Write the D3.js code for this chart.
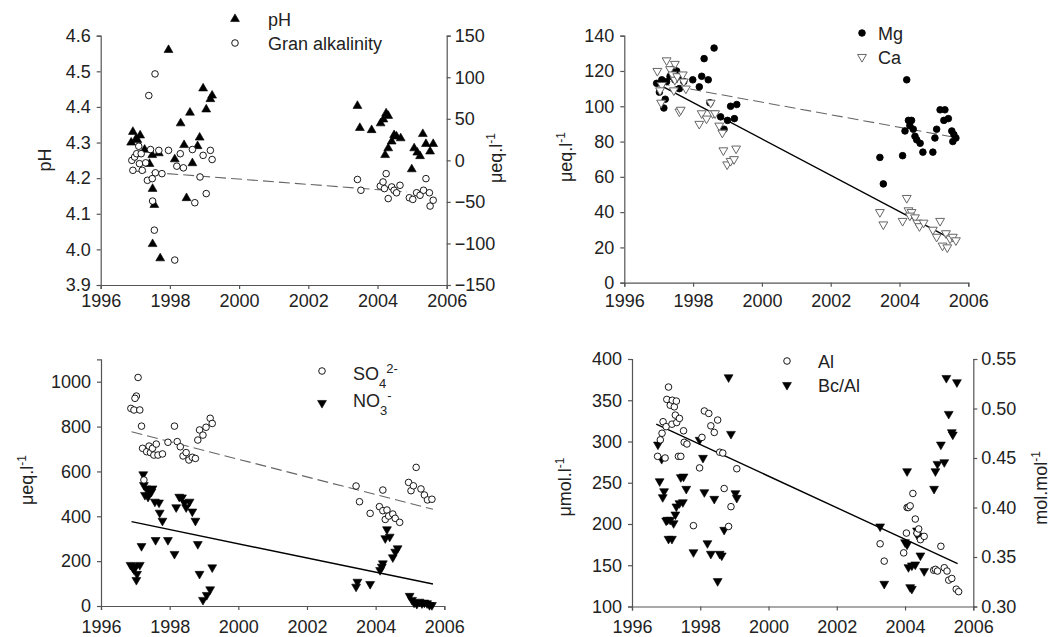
<!DOCTYPE html>
<html>
<head>
<meta charset="utf-8">
<script src="https://cdn.jsdelivr.net/npm/d3@7"></script>
<style>
  body { margin: 0; background: #fff; }
  svg { font-family: "Liberation Sans", Arial, sans-serif; }
</style>
</head>
<body>
<svg id="chart" width="1052" height="637"></svg>
<script>
// ---- data: [year, value] ----
const pH = [
  [1996.93, 4.33], [1997.02, 4.31], [1997.14, 4.32], [1996.88, 4.30], [1997.06, 4.307],
  [1997.27, 4.28], [1997.49, 4.265], [1997.68, 4.27], [1997.41, 4.24], [1997.5, 4.17],
  [1997.55, 4.125], [1997.5, 4.015], [1997.72, 3.975], [1997.96, 4.56], [1998.14, 4.253],
  [1998.31, 4.354], [1998.41, 4.293], [1998.48, 4.144], [1998.58, 4.384], [1998.65, 4.242],
  [1998.8, 4.29], [1998.86, 4.314], [1998.96, 4.452], [1999.05, 4.393], [1999.17, 4.422],
  [1999.22, 4.432],
  [2003.42, 4.403], [2003.49, 4.341], [2003.83, 4.335], [2004.09, 4.354], [2004.17, 4.365],
  [2004.25, 4.382], [2004.31, 4.375], [2004.22, 4.265], [2004.31, 4.284], [2004.41, 4.303],
  [2004.48, 4.321], [2004.55, 4.317], [2004.67, 4.312], [2004.99, 4.225], [2005.06, 4.284],
  [2005.15, 4.272], [2005.23, 4.262], [2005.31, 4.324], [2005.4, 4.296], [2005.52, 4.275],
  [2005.61, 4.296]
];
const granAlk = [
  [1996.90, 0], [1996.98, 4], [1997.04, 8], [1996.93, -12], [1997.10, 17], [1997.17, 8],
  [1997.12, -4], [1997.20, -12], [1997.30, -3], [1997.35, -24], [1997.44, 13], [1997.49, -22],
  [1997.58, -15], [1997.68, 12], [1997.77, -16], [1997.96, 12], [1998.2, -7], [1998.3, 8],
  [1998.39, -9], [1998.65, 13], [1998.87, -20], [1998.96, 6], [1999.17, 12], [1999.22, 1],
  [1999.05, -40], [1998.72, -51], [1997.5, -49], [1997.55, -84], [1998.14, -120],
  [1997.39, 78], [1997.57, 104],
  [2003.42, -23], [2003.52, -36], [2004.08, -31], [2004.16, -26], [2004.25, -16], [2004.2, -34],
  [2004.31, -46], [2004.41, -32], [2004.48, -36], [2004.55, -39], [2004.65, -30], [2004.92, -45],
  [2005.02, -47], [2005.13, -39], [2005.23, -42], [2005.33, -36], [2005.4, -22], [2005.5, -39],
  [2005.52, -55], [2005.61, -48]
];
const alkTrend = [[1997.0, -13], [2004.85, -38]];

const mg = [
  [1996.94, 113], [1997.02, 108], [1997.15, 99], [1997.19, 104], [1997.09, 115], [1997.23, 114],
  [1997.33, 117], [1997.42, 121], [1997.52, 120], [1997.47, 115], [1997.6, 117], [1997.6, 110],
  [1997.73, 114], [1997.99, 115], [1998.18, 111], [1998.25, 117], [1998.32, 127], [1998.44, 115],
  [1998.61, 133], [1998.49, 102], [1998.8, 94], [1998.9, 87], [1999.0, 92], [1999.09, 100],
  [1999.27, 101], [1999.2, 93],
  [2003.43, 71], [2003.53, 56], [2004.09, 72], [2004.21, 115], [2004.16, 86], [2004.26, 92],
  [2004.35, 92], [2004.3, 89], [2004.4, 87], [2004.45, 83], [2004.5, 81], [2004.6, 79],
  [2004.68, 74], [2004.97, 74], [2005.03, 82], [2005.08, 87], [2005.18, 98], [2005.32, 98],
  [2005.29, 92], [2005.42, 93], [2005.52, 86], [2005.58, 84], [2005.64, 82], [2005.55, 80]
];
const ca = [
  [1996.96, 120], [1997.23, 126], [1997.47, 124], [1997.09, 112], [1997.04, 109], [1997.07, 102],
  [1997.33, 121], [1997.4, 118], [1997.47, 115], [1997.54, 117], [1997.44, 109], [1997.7, 118],
  [1997.73, 114], [1997.79, 110], [1997.6, 97], [1997.64, 98], [1998.18, 90], [1998.25, 96],
  [1998.39, 93], [1998.51, 102], [1998.57, 96], [1998.64, 96], [1998.76, 89], [1998.85, 85],
  [1998.88, 75], [1998.99, 67], [1999.09, 69], [1999.19, 70], [1999.25, 76],
  [2003.43, 40], [2003.53, 33], [2004.21, 48], [2004.09, 35], [2004.26, 41], [2004.35, 40],
  [2004.3, 38], [2004.45, 37], [2004.52, 34], [2004.58, 32], [2004.7, 34], [2004.97, 30],
  [2005.08, 26], [2005.18, 35], [2005.25, 21], [2005.35, 28], [2005.39, 20], [2005.47, 25],
  [2005.55, 26], [2005.64, 24]
];
const mgTrend = [[1997.0, 113], [2005.6, 82.4]];
const caTrend = [[1997.04, 112], [2005.6, 23.8]];

const so4 = [
  [1997.08, 1019], [1997.03, 936], [1996.99, 926], [1996.87, 881], [1996.96, 874], [1997.13, 874],
  [1997.18, 802], [1997.21, 703], [1997.33, 688], [1997.4, 713], [1997.44, 684], [1997.5, 703],
  [1997.54, 673], [1997.61, 722], [1997.66, 673], [1997.79, 678], [1997.25, 562], [1997.95, 730],
  [1998.14, 802], [1998.22, 733], [1998.31, 710], [1998.39, 669], [1998.48, 684], [1998.56, 651],
  [1998.66, 663], [1998.75, 658], [1998.82, 740], [1998.87, 785], [1998.97, 762], [1999.06, 797],
  [1999.18, 837], [1999.24, 814],
  [2003.43, 535], [2003.53, 465], [2003.84, 413], [2004.21, 517], [2004.11, 443], [2004.21, 425],
  [2004.28, 386], [2004.33, 428], [2004.38, 401], [2004.5, 410], [2004.57, 391], [2004.7, 373],
  [2005.18, 618], [2004.96, 551], [2005.03, 514], [2005.1, 536], [2005.32, 522], [2005.42, 495],
  [2005.51, 473], [2005.64, 476]
];
const no3 = [
  [1996.86, 183], [1996.92, 172], [1996.96, 163], [1997.01, 178], [1997.05, 143], [1997.03, 116],
  [1997.13, 183], [1997.18, 267], [1997.23, 587], [1997.25, 539], [1997.32, 524], [1997.4, 517],
  [1997.28, 495], [1997.37, 487], [1997.47, 510], [1997.5, 524], [1997.57, 465], [1997.69, 461],
  [1997.71, 416], [1997.79, 380], [1997.59, 294], [1997.95, 294], [1998.14, 232], [1998.19, 440],
  [1998.28, 487], [1998.36, 484], [1998.43, 461], [1998.48, 440], [1998.58, 465], [1998.66, 421],
  [1998.75, 380], [1998.82, 276], [1998.87, 143], [1998.97, 27], [1999.08, 49], [1999.18, 74],
  [1999.24, 172],
  [2003.43, 86], [2003.47, 108], [2003.84, 98], [2004.13, 160], [2004.18, 175], [2004.21, 190],
  [2004.28, 302], [2004.33, 342], [2004.41, 309], [2004.5, 217], [2004.57, 242], [2004.64, 257],
  [2004.99, 45], [2005.06, 27], [2005.12, 15], [2005.2, 9], [2005.28, 19], [2005.35, 12],
  [2005.42, 15], [2005.5, 12], [2005.57, 4], [2005.64, 4]
];
const so4Trend = [[1996.89, 777], [2005.67, 431]];
const no3Trend = [[1996.89, 376], [2005.67, 98]];

const al = [
  [1996.75, 282], [1996.83, 302], [1996.88, 310], [1996.91, 324], [1996.97, 280], [1997.0, 318],
  [1997.07, 366], [1997.02, 351], [1997.12, 344], [1997.18, 350], [1997.24, 342], [1997.3, 349],
  [1997.17, 321], [1997.27, 332], [1997.31, 323], [1997.39, 328], [1997.36, 282], [1997.43, 282],
  [1997.51, 313], [1997.53, 299], [1997.61, 297], [1997.8, 198], [1997.98, 268], [1998.05, 305],
  [1998.12, 337], [1998.25, 334], [1998.31, 319], [1998.41, 311], [1998.51, 326], [1998.57, 287],
  [1998.66, 286], [1998.7, 243], [1998.83, 197], [1998.9, 221], [1999.07, 267],
  [2003.27, 176], [2003.39, 155], [2003.96, 165], [2004.04, 189], [2004.06, 220], [2004.1, 220],
  [2004.15, 222], [2004.23, 237], [2004.3, 206], [2004.35, 189], [2004.4, 194], [2004.45, 181],
  [2004.56, 185], [2004.84, 144], [2004.89, 145], [2004.95, 143], [2005.05, 173], [2005.15, 147],
  [2005.23, 143], [2005.28, 132], [2005.37, 134], [2005.5, 121], [2005.57, 118]
];
const bcAl = [
  [1996.76, 0.4635], [1996.87, 0.449], [1996.81, 0.4265], [1996.94, 0.4164], [1996.9, 0.4104],
  [1997.0, 0.3868], [1997.04, 0.3875], [1997.07, 0.3683], [1997.17, 0.3683], [1997.12, 0.3875],
  [1997.22, 0.3841], [1997.27, 0.3929], [1997.3, 0.401], [1997.39, 0.4043], [1997.43, 0.4306],
  [1997.51, 0.4312], [1997.49, 0.4053], [1997.59, 0.4188], [1997.8, 0.3548], [1997.98, 0.4683],
  [1998.08, 0.4501], [1998.12, 0.4154], [1998.21, 0.3639], [1998.31, 0.3532], [1998.41, 0.4087],
  [1998.51, 0.3256], [1998.57, 0.3532], [1998.63, 0.3515], [1998.7, 0.3774], [1998.83, 0.5315],
  [1998.9, 0.4743], [1999.03, 0.4144], [1999.07, 0.4097],
  [2003.27, 0.3808], [2003.39, 0.3229], [2004.06, 0.4366], [2004.0, 0.3649], [2004.06, 0.3626],
  [2004.1, 0.3397], [2004.2, 0.3414], [2004.3, 0.3424], [2004.35, 0.3767], [2004.37, 0.3717],
  [2004.15, 0.3195], [2004.2, 0.3178], [2004.45, 0.3515], [2004.56, 0.3357], [2004.85, 0.4188],
  [2004.89, 0.4366], [2004.95, 0.444], [2005.05, 0.4635], [2005.15, 0.4457], [2005.21, 0.5308],
  [2005.28, 0.4945], [2005.37, 0.476], [2005.4, 0.4736], [2005.52, 0.5265]
];
const alTrend = [[1996.71, 321], [2005.54, 152]];

const yearTicks = [1996, 1998, 2000, 2002, 2004, 2006];

// ---- drawing ----
const svg = d3.select("#chart");
const FONT = 18;
const AXIS_COLOR = "#555";

function styleAxis(g) {
  g.select(".domain").attr("stroke", AXIS_COLOR).attr("stroke-width", 1.2);
  g.selectAll(".tick line").attr("stroke", AXIS_COLOR).attr("stroke-width", 1.2);
  g.selectAll(".tick text").attr("fill", "#222").style("font-size", FONT + "px");
}

function xAxis(x, yPos, pad) {
  svg.append("g")
    .attr("transform", `translate(0,${yPos})`)
    .call(d3.axisBottom(x).tickValues(yearTicks).tickFormat(d3.format("d"))
      .tickSizeOuter(0).tickSize(4).tickPadding(pad))
    .call(styleAxis);
}

function yAxis(y, xPos, ticks, fmt, right) {
  const ax = right ? d3.axisRight(y) : d3.axisLeft(y);
  svg.append("g")
    .attr("transform", `translate(${xPos},0)`)
    .call(ax.tickValues(ticks).tickFormat(fmt).tickSizeOuter(0).tickSize(4).tickPadding(right ? 4 : 6))
    .call(styleAxis);
}

const tri = d3.symbol().type(d3.symbolTriangle).size(34);

function points(data, x, y, kind) {
  const g = svg.append("g");
  if (kind === "dot" || kind === "circle") {
    g.selectAll("circle").data(data).join("circle")
      .attr("cx", d => x(d[0])).attr("cy", d => y(d[1])).attr("r", 3.3)
      .attr("fill", kind === "dot" ? "#000" : "#fff")
      .attr("stroke", "#000").attr("stroke-width", 0.9);
  } else {
    const down = kind !== "up";
    const open = kind === "downOpen";
    g.selectAll("path").data(data).join("path")
      .attr("d", tri)
      .attr("transform", d => `translate(${x(d[0])},${y(d[1])})${down ? " rotate(180)" : ""}`)
      .attr("fill", open ? "#fff" : "#000")
      .attr("stroke", open ? "#666" : "#000").attr("stroke-width", open ? 1 : 0.6);
  }
}

function trend(data, x, y, dashed) {
  svg.append("path").datum(data)
    .attr("d", d3.line().x(d => x(d[0])).y(d => y(d[1])))
    .attr("fill", "none")
    .attr("stroke", dashed ? "#666" : "#000")
    .attr("stroke-width", dashed ? 1.1 : 1.4)
    .attr("stroke-dasharray", dashed ? "11,5" : null);
}

function rotLabel(cx, cy, main, sup) {
  const t = svg.append("text")
    .attr("transform", `translate(${cx},${cy}) rotate(-90)`)
    .attr("text-anchor", "middle").attr("dy", "0.35em")
    .style("font-size", FONT + "px").attr("fill", "#222");
  t.append("tspan").text(main);
  if (sup) t.append("tspan").attr("baseline-shift", "super").style("font-size", "12px").text(sup);
}

function legendText(x, y, parts) {
  const t = svg.append("text").attr("x", x).attr("y", y)
    .style("font-size", FONT + "px").attr("fill", "#222");
  parts.forEach(p => {
    const s = t.append("tspan").text(p.t);
    if (p.sub) s.attr("baseline-shift", "sub").style("font-size", "13px");
    if (p.sup) s.attr("baseline-shift", "super").style("font-size", "13px");
  });
}

function legendMarker(cx, cy, kind) {
  points([[0, 0]], () => cx, () => cy, kind);
}

// Panel A: pH and Gran alkalinity
{
  const x = d3.scaleLinear().domain([1996, 2006]).range([100.7, 446.7]);
  const yL = d3.scaleLinear().domain([3.9, 4.6]).range([285, 35.7]);
  const yR = d3.scaleLinear().domain([-150, 150]).range([285, 35.7]);
  xAxis(x, 285, 5);
  yAxis(yL, 100.7, d3.range(3.9, 4.65, 0.1), d3.format(".1f"), false);
  yAxis(yR, 446.7, d3.range(-150, 151, 50), d3.format("d"), true);
  trend(alkTrend, x, yR, true);
  points(pH, x, yL, "up");
  points(granAlk, x, yR, "circle");
  legendMarker(235, 19, "up");
  legendMarker(235, 43, "circle");
  legendText(268, 26, [{ t: "pH" }]);
  legendText(268, 50, [{ t: "Gran alkalinity" }]);
  rotLabel(45, 160, "pH");
  rotLabel(496, 158, "μeq.l", "-1");
}

// Panel B: Mg and Ca
{
  const x = d3.scaleLinear().domain([1996, 2006]).range([624.3, 968.3]);
  const y = d3.scaleLinear().domain([0, 140]).range([282.7, 35.7]);
  xAxis(x, 282.7, 8);
  yAxis(y, 624.3, d3.range(0, 141, 20), d3.format("d"), false);
  trend(mgTrend, x, y, true);
  trend(caTrend, x, y, false);
  points(mg, x, y, "dot");
  points(ca, x, y, "downOpen");
  legendMarker(862, 33, "dot");
  legendMarker(862, 57, "downOpen");
  legendText(878, 40, [{ t: "Mg" }]);
  legendText(878, 64, [{ t: "Ca" }]);
  rotLabel(566, 157, "μeq.l", "-1");
}

// Panel C: SO4 and NO3
{
  const x = d3.scaleLinear().domain([1996, 2006]).range([101, 444.3]);
  const y = d3.scaleLinear().domain([0, 1100]).range([606, 359.3]);
  xAxis(x, 606, 10);
  yAxis(y, 101, d3.range(0, 1001, 200), d3.format("d"), false);
  trend(so4Trend, x, y, true);
  trend(no3Trend, x, y, false);
  points(no3, x, y, "down");
  points(so4, x, y, "circle");
  legendMarker(322, 371, "circle");
  legendMarker(322, 403, "down");
  legendText(353, 380, [{ t: "SO" }, { t: "4", sub: true }, { t: "2-", sup: true }]);
  legendText(353, 407, [{ t: "NO" }, { t: "3", sub: true }, { t: "-", sup: true }]);
  rotLabel(27, 480, "μeq.l", "-1");
}

// Panel D: Al and Bc/Al
{
  const x = d3.scaleLinear().domain([1996, 2006]).range([632, 973.3]);
  const yL = d3.scaleLinear().domain([100, 400]).range([606.5, 359]);
  const yR = d3.scaleLinear().domain([0.30, 0.55]).range([606.5, 359]);
  xAxis(x, 606.5, 10);
  yAxis(yL, 632, d3.range(100, 401, 50), d3.format("d"), false);
  yAxis(yR, 973.3, d3.range(0.30, 0.551, 0.05), d3.format(".2f"), true);
  trend(alTrend, x, yL, false);
  points(bcAl, x, yR, "down");
  points(al, x, yL, "circle");
  legendMarker(787, 361, "circle");
  legendMarker(787, 385, "down");
  legendText(818, 368, [{ t: "Al" }]);
  legendText(818, 392, [{ t: "Bc/Al" }]);
  rotLabel(565, 487, "μmol.l", "-1");
  rotLabel(1041, 488, "mol.mol", "-1");
}
</script>
</body>
</html>
